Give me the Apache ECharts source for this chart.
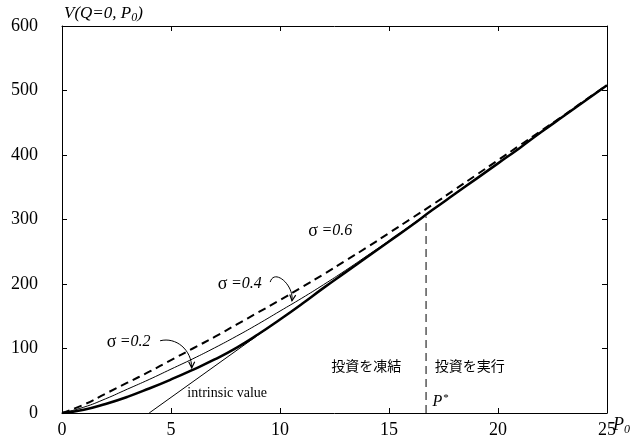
<!DOCTYPE html>
<html>
<head>
<meta charset="utf-8">
<script src="https://cdn.jsdelivr.net/npm/echarts@6/dist/echarts.min.js"></script>
<style>
  html, body { margin: 0; padding: 0; background: #fff; }
  #c { width: 643px; height: 443px; }
</style>
</head>
<body>
<div id="c"></div>
<script>
// Price grid P0 and project value V(Q=0, P0) for three volatilities
const priceP = [0, 1, 2, 3, 4, 5, 6, 7, 8, 9, 10, 11, 12, 13, 14, 15, 16, 17, 18, 19, 20, 21, 22, 23, 24, 25];
const valueSigma02 = [0, 5, 14, 25, 38, 52, 67, 83, 101, 122, 145, 169, 194, 218, 242, 266, 290, 315, 339, 363, 387, 411, 436, 460, 484, 508];
const valueSigma04 = [0, 9, 22, 37, 52, 68, 84, 101, 119, 138, 158, 178, 199, 221, 244, 267, 291, 315, 339, 363, 387, 411, 436, 460, 484, 508];
const valueSigma06 = [0, 13, 30, 47, 64, 82, 100, 118, 137, 156, 175, 195, 215, 236, 257, 279, 301, 323, 346, 369, 392, 415, 438, 461, 485, 508];

// Intrinsic value line (zero below P0 = 4)
const intrinsicP = [4, 25];
const intrinsicV = [0, 508];

// Investment trigger P*
const triggerP = 16.7;
const triggerV = 305;

// Axis ranges
const xRange = [0, 25, 5];
const yRange = [0, 600, 100];

const pairs = (xs, ys) => xs.map((x, i) => [x, ys[i]]);

const SERIF = '"Liberation Serif", "DejaVu Serif", serif';
const CJK = '"Noto Sans CJK JP", "Noto Sans", sans-serif';

const chart = echarts.init(document.getElementById('c'), null, { renderer: 'canvas' });

const axisCommon = () => ({
  type: 'value',
  axisLine: { show: true, onZero: false, lineStyle: { color: '#000', width: 1 } },
  axisTick: { show: true, inside: true, length: 5, lineStyle: { color: '#000', width: 1 } },
  splitLine: { show: false }
});

chart.setOption({
  animation: false,
  backgroundColor: '#fff',
  grid: { left: 62, right: 36, top: 26, bottom: 30, containLabel: false, outerBoundsMode: 'none' },
  xAxis: [
    Object.assign(axisCommon(), {
      min: xRange[0], max: xRange[1], interval: xRange[2], position: 'bottom',
      axisLabel: { color: '#000', fontFamily: SERIF, fontSize: 18, margin: 8 }
    }),
    Object.assign(axisCommon(), {
      min: xRange[0], max: xRange[1], interval: xRange[2], position: 'top',
      axisLabel: { show: false }
    })
  ],
  yAxis: [
    Object.assign(axisCommon(), {
      min: yRange[0], max: yRange[1], interval: yRange[2], position: 'left',
      axisLabel: { color: '#000', fontFamily: SERIF, fontSize: 18, margin: 24 }
    }),
    Object.assign(axisCommon(), {
      min: yRange[0], max: yRange[1], interval: yRange[2], position: 'right',
      axisLabel: { show: false }
    })
  ],
  series: [
    {
      name: 'intrinsic value', type: 'line', data: pairs(intrinsicP, intrinsicV),
      showSymbol: false, lineStyle: { color: '#000', width: 1 }, z: 2
    },
    {
      name: 'sigma 0.6', type: 'line', data: pairs(priceP, valueSigma06),
      smooth: 0.5, showSymbol: false,
      lineStyle: { color: '#000', width: 2, type: [8, 5] }, z: 3
    },
    {
      name: 'sigma 0.4', type: 'line', data: pairs(priceP, valueSigma04),
      smooth: 0.5, showSymbol: false,
      lineStyle: { color: '#000', width: 1 }, z: 3
    },
    {
      name: 'sigma 0.2', type: 'line', data: pairs(priceP, valueSigma02),
      smooth: 0.5, showSymbol: false,
      lineStyle: { color: '#000', width: 2.5 }, z: 4
    },
    {
      name: 'trigger', type: 'line', data: [[triggerP, 0], [triggerP, triggerV]],
      showSymbol: false, lineStyle: { color: '#000', width: 1, type: [8, 5] }, z: 2
    }
  ]
});

// Annotations placed in data coordinates
const px = (p, v) => chart.convertToPixel({ gridIndex: 0 }, [p, v]);

function textAt(p, v, rich, text, dx, dy, vAlign) {
  const pt = px(p, v);
  return {
    type: 'text', x: pt[0] + (dx || 0), y: pt[1] + (dy || 0), z: 10,
    style: { text: text, rich: rich, verticalAlign: vAlign || 'middle', fill: '#000' }
  };
}

const sigmaRich = {
  s: { fontFamily: SERIF, fontSize: 18, fill: '#000' },
  i: { fontFamily: SERIF, fontSize: 16, fontStyle: 'italic', fill: '#000' }
};

function arrow(from, c1, c2, to) {
  const a = px(from[0], from[1]), b = px(to[0], to[1]);
  const q1 = [a[0] + c1[0], a[1] + c1[1]];
  const q2 = [b[0] + c2[0], b[1] + c2[1]];
  const ang = Math.atan2(b[1] - q2[1], b[0] - q2[0]);
  const len = 6, half = 3;
  const bx = b[0] - len * Math.cos(ang), by = b[1] - len * Math.sin(ang);
  const nx = -Math.sin(ang) * half, ny = Math.cos(ang) * half;
  return [
    {
      type: 'bezierCurve', z: 10,
      shape: { x1: a[0], y1: a[1], cpx1: q1[0], cpy1: q1[1], cpx2: q2[0], cpy2: q2[1], x2: b[0], y2: b[1] },
      style: { stroke: '#000', lineWidth: 1, fill: null }
    },
    {
      type: 'polyline', z: 10,
      shape: { points: [[bx + nx, by + ny], [b[0], b[1]], [bx - nx, by - ny]] },
      style: { stroke: '#000', lineWidth: 1.2, fill: null }
    }
  ];
}

const origin = px(0, 600);
const axisEnd = px(25, 0);

const graphics = [
  // Vertical axis title
  {
    type: 'text', x: origin[0] + 2, y: origin[1] - 2, z: 10,
    style: {
      text: '{i|V(Q=0, P}{sub|0}{i|)}', verticalAlign: 'bottom',
      rich: {
        i: { fontFamily: SERIF, fontSize: 17, fontStyle: 'italic', fill: '#000' },
        sub: { fontFamily: SERIF, fontSize: 12, fontStyle: 'italic', fill: '#000', padding: [8, 0, 0, 0] }
      }
    }
  },
  // Horizontal axis title
  {
    type: 'text', x: axisEnd[0] + 6, y: axisEnd[1] + 1, z: 10,
    style: {
      text: '{i|P}{sub|0}', verticalAlign: 'top',
      rich: {
        i: { fontFamily: SERIF, fontSize: 18, fontStyle: 'italic', fill: '#000' },
        sub: { fontFamily: SERIF, fontSize: 12, fontStyle: 'italic', fill: '#000', padding: [10, 0, 0, 0] }
      }
    }
  },
  textAt(2.05, 110, sigmaRich, '{s|σ} {i|=0.2}'),
  textAt(7.15, 200, sigmaRich, '{s|σ} {i|=0.4}'),
  textAt(11.3, 282, sigmaRich, '{s|σ} {i|=0.6}'),
  textAt(5.75, 31, { t: { fontFamily: SERIF, fontSize: 14, fill: '#000' } }, '{t|intrinsic value}'),
  textAt(12.35, 74, { t: { fontFamily: CJK, fontSize: 14, fill: '#000' } }, '{t|投資を凍結}'),
  textAt(17.1, 74, { t: { fontFamily: CJK, fontSize: 14, fill: '#000' } }, '{t|投資を実行}'),
  textAt(17.0, 17, {
    i: { fontFamily: SERIF, fontSize: 16, fontStyle: 'italic', fill: '#000' },
    sup: { fontFamily: SERIF, fontSize: 11, fill: '#000', padding: [0, 0, 8, 1] }
  }, '{i|P}{sup|*}')
].concat(
  arrow([4.5, 112], [16, -4], [0, -18], [5.95, 70]),
  arrow([9.55, 203], [4, -14], [2, -16], [10.55, 174])
);

chart.setOption({ graphic: graphics });
</script>
</body>
</html>
